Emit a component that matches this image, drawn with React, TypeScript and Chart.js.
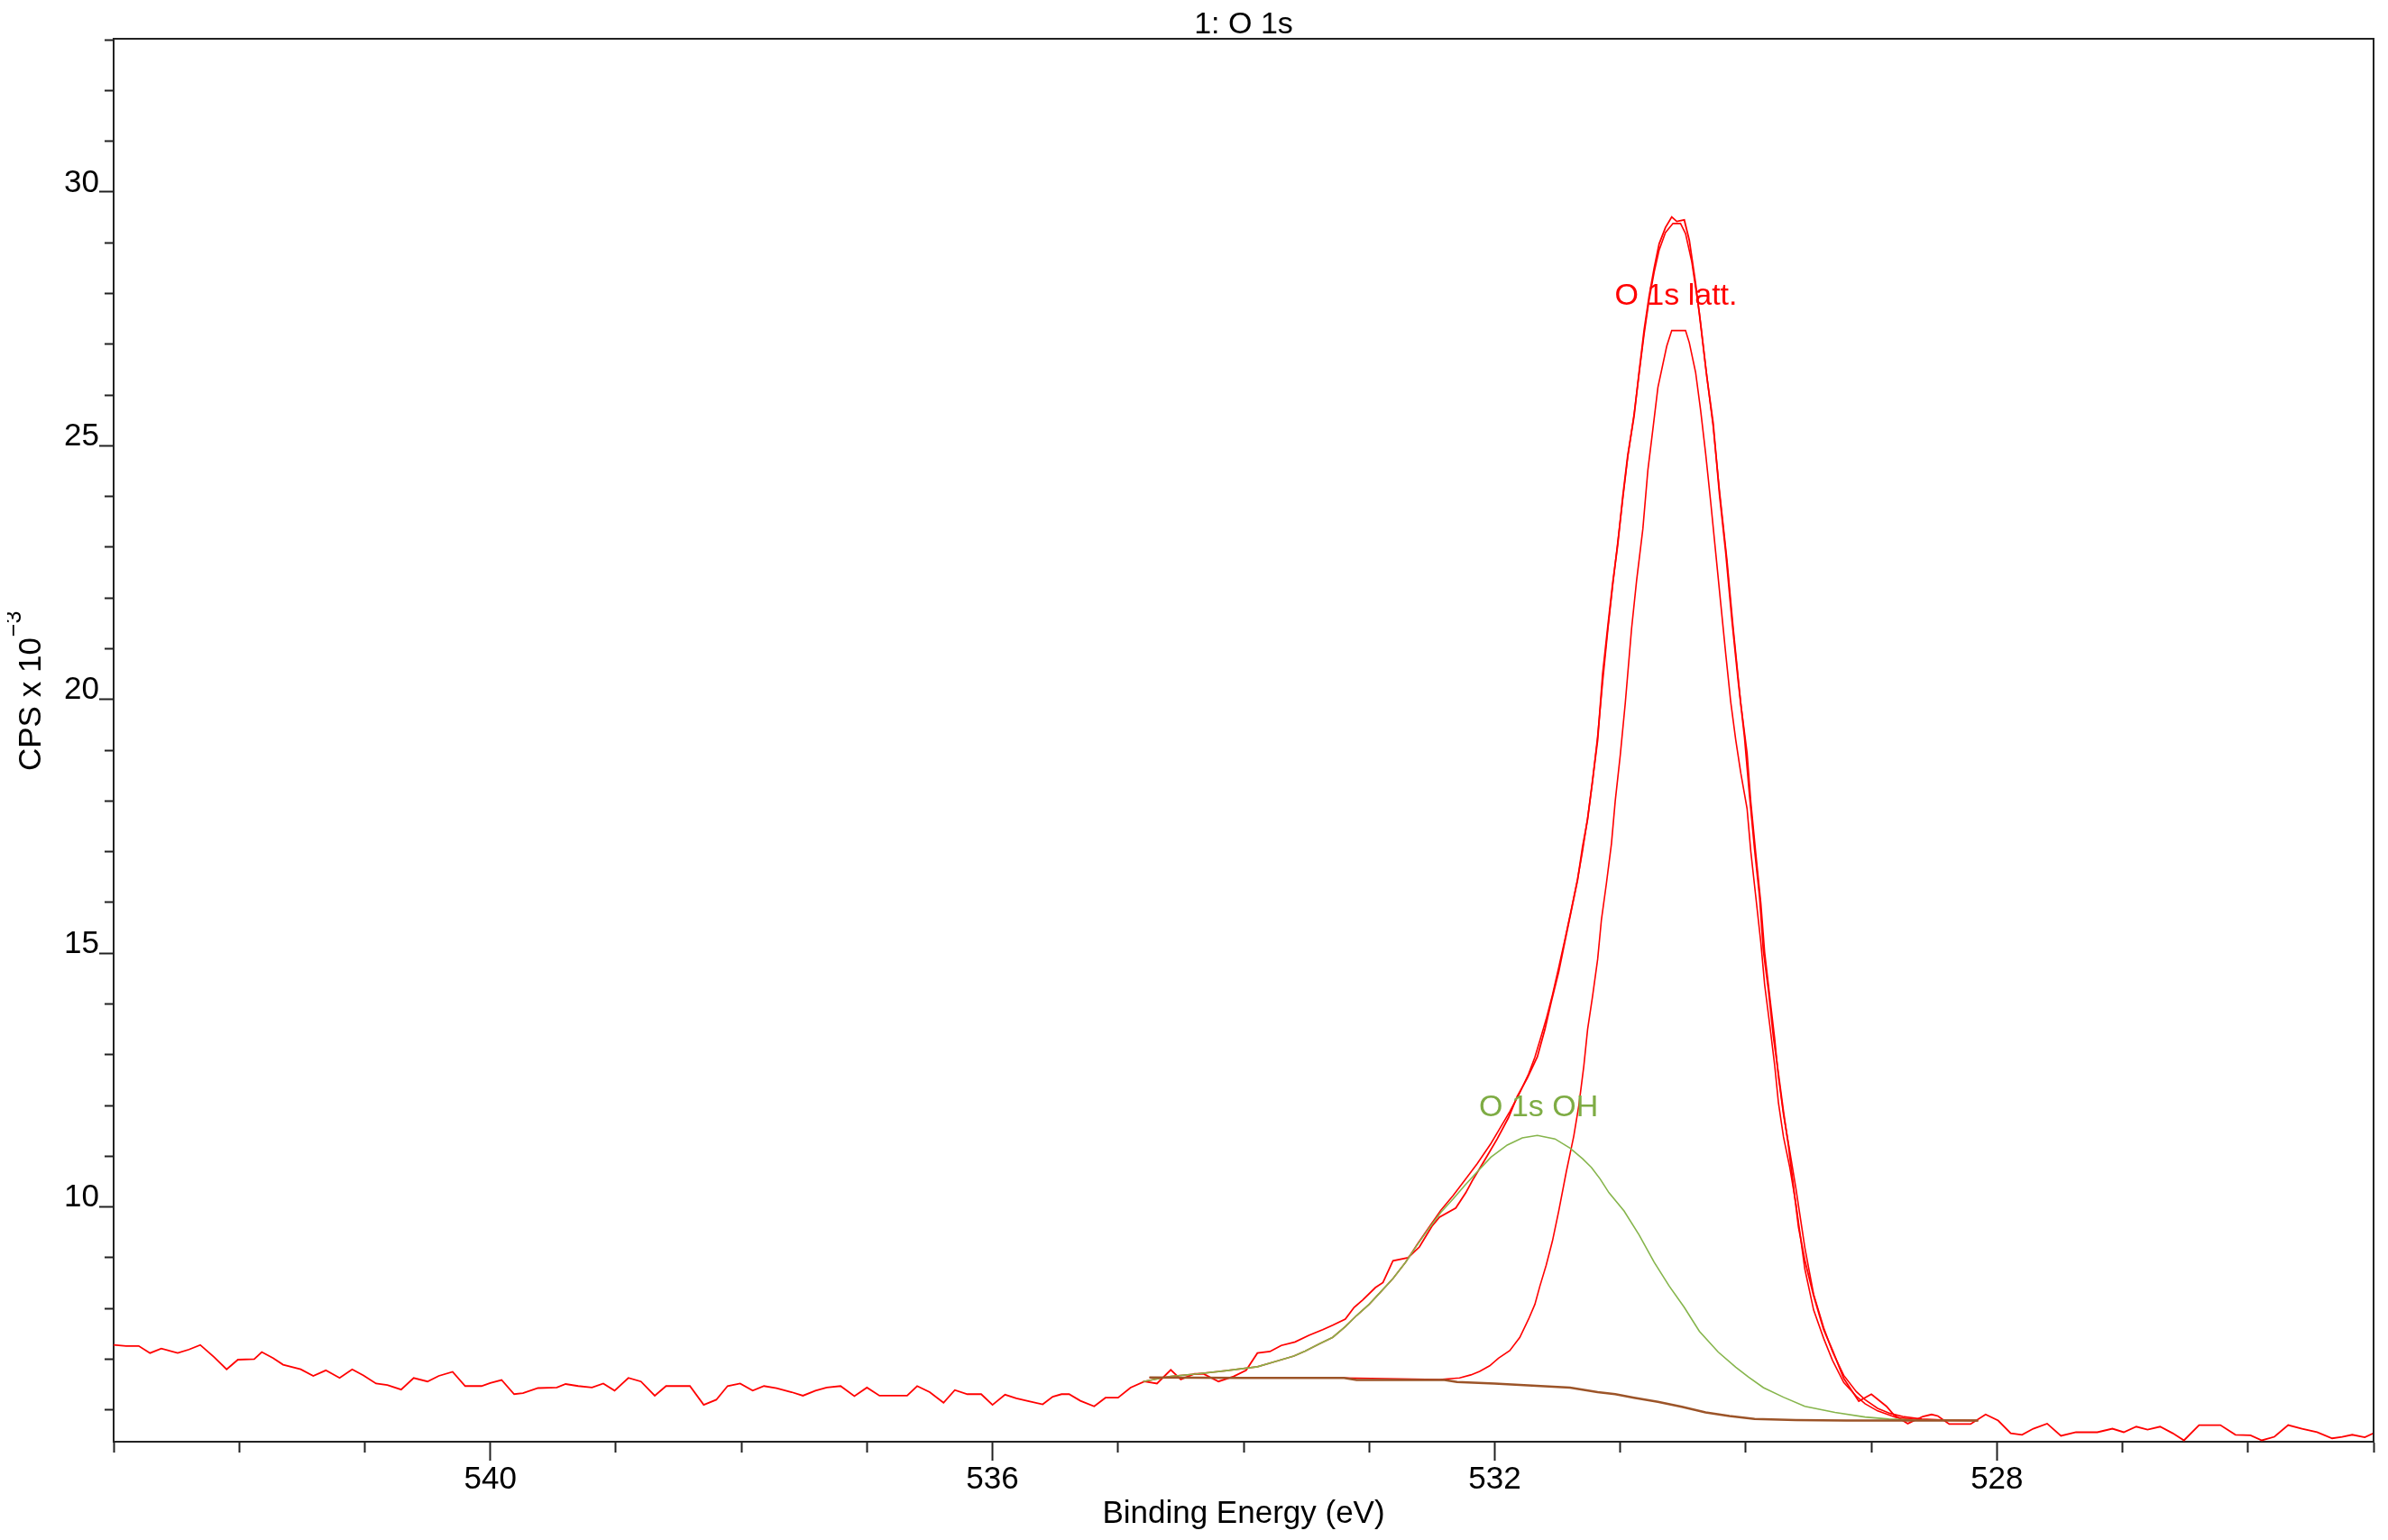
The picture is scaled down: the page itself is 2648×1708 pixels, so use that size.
import React, { useEffect, useRef } from "react";
import { Chart, registerables } from "chart.js";

Chart.register(...registerables);

// ---------- texts ----------
const chartTitle = "1: O 1s";
const xAxisTitle = "Binding Energy (eV)";
const yAxisTitleMain = "CPS x 10";
const yAxisTitleExp = "\u22123";

// ---------- axes ----------
const xMin = 525;
const xMax = 543;
const yMin = 5.373;
const yMax = 33.02;
const xLabelValues = [540, 536, 532, 528];
const yLabelValues = [10, 15, 20, 25, 30];

// ---------- peak labels ----------
const peakLabelTexts = ["O 1s latt.", "O 1s OH"];
const peakLabelBE = [530.556, 531.65];
const peakLabelCPS = [27.78, 11.79];

// ---------- raw data (CPS x 10^-3) ----------
const rawBE = [
  543.0, 542.9, 542.8, 542.71, 542.62, 542.49, 542.4, 542.31, 542.2, 542.1,
  542.01, 541.88, 541.82, 541.73, 541.65, 541.51, 541.41, 541.31, 541.2, 541.1,
  541.01, 540.91, 540.82, 540.71, 540.61, 540.5, 540.41, 540.3, 540.2, 540.07,
  540.0, 539.91, 539.81, 539.74, 539.62, 539.47, 539.4, 539.3, 539.19, 539.1,
  539.01, 538.9, 538.8, 538.69, 538.6, 538.5, 538.41, 538.3, 538.2, 538.11,
  538.01, 537.91, 537.82, 537.72, 537.6, 537.51, 537.41, 537.32, 537.21, 537.1,
  537.0, 536.9, 536.79, 536.68, 536.6, 536.5, 536.39, 536.3, 536.2, 536.09,
  536.0, 535.9, 535.81, 535.71, 535.6, 535.52, 535.45, 535.39, 535.3, 535.19,
  535.1, 535.0, 534.9, 534.79, 534.69, 534.58, 534.5, 534.39, 534.32, 534.2,
  534.08, 533.98, 533.89, 533.79, 533.7, 533.59, 533.48, 533.37, 533.29, 533.19,
  533.12, 533.05, 532.95, 532.89, 532.81, 532.69, 532.6, 532.5, 532.44, 532.31,
  532.23, 532.18, 532.08, 531.98, 531.89, 531.82, 531.74, 531.66, 531.6, 531.55,
  531.49, 531.44, 531.39, 531.34, 531.3, 531.26, 531.22, 531.18, 531.14, 531.1,
  531.06, 531.02, 530.98, 530.94, 530.89, 530.85, 530.81, 530.77, 530.73, 530.69,
  530.64, 530.59, 530.55, 530.49, 530.45, 530.4, 530.36, 530.31, 530.26, 530.21,
  530.16, 530.11, 530.06, 530.01, 529.97, 529.93, 529.89, 529.86, 529.82, 529.78,
  529.74, 529.7, 529.66, 529.62, 529.58, 529.53, 529.46, 529.38, 529.31, 529.22,
  529.1, 529.0, 528.88, 528.82, 528.71, 528.59, 528.52, 528.47, 528.38, 528.21,
  528.09, 527.99, 527.89, 527.8, 527.71, 527.6, 527.49, 527.37, 527.2, 527.08,
  526.99, 526.89, 526.8, 526.7, 526.6, 526.51, 526.39, 526.22, 526.1, 525.98,
  525.89, 525.79, 525.68, 525.57, 525.45, 525.33, 525.25, 525.17, 525.07, 525.0,
];
const rawCPS = [
  7.28, 7.26, 7.26, 7.12, 7.21, 7.12, 7.19, 7.28, 7.04, 6.8,
  6.99, 7.0, 7.14, 7.02, 6.89, 6.8, 6.67, 6.78, 6.63, 6.8,
  6.68, 6.52, 6.49, 6.4, 6.63, 6.56, 6.67, 6.75, 6.47, 6.47,
  6.53, 6.59, 6.31, 6.33, 6.43, 6.44, 6.51, 6.47, 6.44, 6.52,
  6.38, 6.63, 6.56, 6.28, 6.47, 6.47, 6.47, 6.1, 6.2, 6.47,
  6.52, 6.38, 6.47, 6.43, 6.35, 6.28, 6.38, 6.44, 6.47, 6.27,
  6.44, 6.28, 6.28, 6.28, 6.47, 6.35, 6.14, 6.39, 6.31, 6.31,
  6.1, 6.3, 6.23, 6.17, 6.11, 6.26, 6.31, 6.31, 6.18, 6.07,
  6.24, 6.24, 6.44, 6.56, 6.52, 6.79, 6.6, 6.71, 6.71, 6.56,
  6.66, 6.78, 7.12, 7.15, 7.27, 7.34, 7.47, 7.58, 7.67, 7.79,
  8.02, 8.17, 8.41, 8.51, 8.94, 9.0, 9.21, 9.62, 9.8, 9.98,
  10.28, 10.51, 10.92, 11.34, 11.76, 12.18, 12.54, 12.96, 13.5, 14.04,
  14.64, 15.24, 15.84, 16.44, 17.1, 17.64, 18.42, 19.2, 20.51, 21.42,
  22.3, 23.05, 24.0, 24.82, 25.58, 26.45, 27.28, 27.95, 28.5, 28.98,
  29.3, 29.51, 29.42, 29.45, 29.05, 28.2, 27.4, 26.35, 25.45, 24.05,
  22.9, 21.55, 20.35, 19.25, 18.1, 17.05, 16.1, 15.05, 14.28, 13.35,
  12.62, 11.88, 11.2, 10.4, 9.6, 8.95, 8.25, 7.58, 7.18, 6.62,
  6.17, 6.31, 6.07, 5.9, 5.73, 5.87, 5.91, 5.88, 5.72, 5.72,
  5.91, 5.79, 5.54, 5.51, 5.63, 5.73, 5.49, 5.56, 5.56, 5.63,
  5.56, 5.67, 5.61, 5.67, 5.54, 5.4, 5.7, 5.7, 5.51, 5.5,
  5.4, 5.47, 5.7, 5.63, 5.56, 5.44, 5.47, 5.51, 5.46, 5.54,
];

// ---------- fit envelope ----------
const envBE = [
  534.8, 534.58, 534.37, 534.15, 533.89, 533.74, 533.6, 533.51, 533.39, 533.29,
  533.19, 533.1, 533.0, 532.91, 532.81, 532.71, 532.62, 532.52, 532.43, 532.33,
  532.24, 532.14, 532.03, 531.97, 531.88, 531.8, 531.73, 531.68, 531.64, 531.59,
  531.54, 531.49, 531.44, 531.39, 531.34, 531.3, 531.26, 531.22, 531.18, 531.14,
  531.1, 531.06, 531.02, 530.98, 530.94, 530.89, 530.85, 530.81, 530.77, 530.73,
  530.69, 530.64, 530.58, 530.52, 530.48, 530.43, 530.37, 530.32, 530.26, 530.21,
  530.15, 530.1, 530.04, 529.99, 529.96, 529.92, 529.88, 529.85, 529.81, 529.77,
  529.74, 529.7, 529.65, 529.6, 529.53, 529.46, 529.38, 529.31, 529.22, 529.12,
  529.05, 528.95, 528.85, 528.75, 528.6, 528.4, 528.15,
];
const envCPS = [
  6.56, 6.66, 6.71, 6.77, 6.85, 6.96, 7.06, 7.16, 7.31, 7.43,
  7.64, 7.86, 8.08, 8.32, 8.59, 8.91, 9.25, 9.61, 9.93, 10.23,
  10.52, 10.85, 11.25, 11.5, 11.88, 12.25, 12.62, 12.95, 13.28, 13.7,
  14.18, 14.72, 15.28, 15.86, 16.46, 17.02, 17.66, 18.4, 19.28, 20.35,
  21.35, 22.25, 23.1, 23.95, 24.78, 25.62, 26.42, 27.2, 27.88, 28.42,
  28.86, 29.2, 29.38, 29.38, 29.18, 28.62, 27.62, 26.56, 25.38, 24.12,
  22.75, 21.4, 19.92, 18.95, 17.98, 16.95, 15.98, 15.02, 14.16, 13.32,
  12.56, 11.82, 11.1, 10.35, 9.2, 8.28, 7.62, 7.15, 6.68, 6.36,
  6.2, 6.03, 5.93, 5.87, 5.82, 5.8, 5.79,
];

// ---------- component O 1s latt. (on background) ----------
const lattBE = [
  534.75, 533.2, 532.44, 532.28, 532.19, 532.12, 532.04, 531.97, 531.88, 531.8,
  531.73, 531.68, 531.64, 531.59, 531.54, 531.49, 531.43, 531.37, 531.33, 531.29,
  531.26, 531.22, 531.18, 531.15, 531.11, 531.07, 531.04, 531.0, 530.96, 530.91,
  530.87, 530.82, 530.78, 530.74, 530.7, 530.63, 530.59, 530.48, 530.45, 530.4,
  530.36, 530.32, 530.28, 530.24, 530.2, 530.16, 530.12, 530.08, 530.04, 529.99,
  529.96, 529.92, 529.88, 529.85, 529.81, 529.77, 529.74, 529.7, 529.65, 529.6,
  529.53, 529.46, 529.38, 529.31, 529.22, 529.12, 529.05, 528.95, 528.8, 528.6,
  528.15,
];
const lattCPS = [
  6.64, 6.63, 6.6, 6.63, 6.69, 6.76, 6.87, 7.02, 7.17, 7.43,
  7.79, 8.08, 8.44, 8.85, 9.33, 9.92, 10.69, 11.4, 12.0, 12.78,
  13.5, 14.16, 14.88, 15.66, 16.38, 17.16, 18.0, 18.9, 19.93, 21.39,
  22.34, 23.36, 24.52, 25.33, 26.15, 26.96, 27.27, 27.27, 27.03, 26.45,
  25.7, 24.85, 23.9, 22.9, 21.9, 20.9, 19.95, 19.2, 18.55, 17.85,
  17.0, 16.1, 15.2, 14.38, 13.6, 12.79, 12.05, 11.38, 10.78, 10.05,
  8.78, 7.97, 7.41, 6.98, 6.54, 6.27, 6.12, 5.98, 5.85, 5.8,
  5.79,
];

// ---------- component O 1s OH (on background) ----------
const ohBE = [
  534.8, 534.58, 534.37, 534.15, 533.89, 533.74, 533.6, 533.51, 533.39, 533.29,
  533.19, 533.1, 533.0, 532.91, 532.81, 532.71, 532.62, 532.52, 532.43, 532.33,
  532.24, 532.14, 532.03, 531.9, 531.78, 531.66, 531.52, 531.4, 531.3, 531.23,
  531.16, 531.09, 530.97, 530.85, 530.73, 530.61, 530.49, 530.37, 530.22, 530.08,
  529.98, 529.86, 529.7, 529.53, 529.29, 529.05, 528.86, 528.64, 528.15,
];
const ohCPS = [
  6.56, 6.66, 6.71, 6.77, 6.85, 6.96, 7.06, 7.16, 7.31, 7.43,
  7.64, 7.86, 8.08, 8.32, 8.59, 8.91, 9.24, 9.59, 9.89, 10.16,
  10.42, 10.69, 10.98, 11.22, 11.36, 11.41, 11.34, 11.16, 10.95, 10.78,
  10.55, 10.28, 9.92, 9.45, 8.91, 8.44, 8.02, 7.55, 7.14, 6.84,
  6.65, 6.44, 6.25, 6.07, 5.95, 5.86, 5.82, 5.8, 5.79,
];

// ---------- background ----------
const bgBE = [
  534.75, 534.0, 533.2, 533.1, 532.4, 532.3, 532.0, 531.7, 531.4, 531.18,
  531.04, 530.89, 530.7, 530.51, 530.32, 530.13, 529.93, 529.6, 529.2, 528.6,
  528.15,
];
const bgCPS = [
  6.64, 6.63, 6.63, 6.59, 6.59, 6.55, 6.52, 6.48, 6.44, 6.35,
  6.31, 6.24, 6.16, 6.06, 5.95, 5.88, 5.82, 5.8, 5.79, 5.79,
  5.79,
];

// ---------- styling ----------
const FONT_FAMILY = "'Liberation Sans', Arial, Helvetica, sans-serif";
const RED = "#ff0000";
const GREEN = "#86b54c";
const GREEN_TEXT = "#7eac44";
const BROWN = "#9c5428";
const AXIS = "#222222";

const toPoints = (xs: number[], ys: number[]) => xs.map((x, i) => ({ x, y: ys[i] }));

const framePlugin = {
  id: "frame",
  afterDraw(chart: any) {
    const { ctx, chartArea: a } = chart;
    ctx.save();
    ctx.strokeStyle = AXIS;
    ctx.lineWidth = 2;
    ctx.beginPath();
    ctx.moveTo(a.left, a.top);
    ctx.lineTo(a.right, a.top);
    ctx.lineTo(a.right, a.bottom);
    ctx.stroke();
    ctx.restore();
  },
};

const textPlugin = {
  id: "texts",
  afterDraw(chart: any) {
    const { ctx, chartArea: a, scales } = chart;
    ctx.save();
    // chart title
    ctx.fillStyle = "#000";
    ctx.font = `34px ${FONT_FAMILY}`;
    ctx.textAlign = "center";
    ctx.textBaseline = "alphabetic";
    ctx.fillText(chartTitle, (a.left + a.right) / 2, a.top - 6);
    // peak labels
    const colors = [RED, GREEN_TEXT];
    peakLabelTexts.forEach((t, i) => {
      ctx.fillStyle = colors[i];
      ctx.fillText(t, scales.x.getPixelForValue(peakLabelBE[i]), scales.y.getPixelForValue(peakLabelCPS[i]));
    });
    // y axis title with exponent
    ctx.translate(37, 847);
    ctx.rotate(-Math.PI / 2);
    ctx.fillStyle = "#000";
    ctx.textAlign = "left";
    ctx.font = `35px ${FONT_FAMILY}`;
    ctx.fillText(yAxisTitleMain, 0, 0);
    const w = ctx.measureText(yAxisTitleMain).width;
    ctx.font = `25px ${FONT_FAMILY}`;
    ctx.fillText(yAxisTitleExp, w + 1, -22);
    ctx.restore();
  },
};

export default function App() {
  const canvasRef = useRef<HTMLCanvasElement | null>(null);

  useEffect(() => {
    const canvas = canvasRef.current;
    if (!canvas) return;
    const line = (label: string, xs: number[], ys: number[], color: string, width: number) => ({
      label,
      data: toPoints(xs, ys),
      borderColor: color,
      backgroundColor: color,
      borderWidth: width,
      pointRadius: 0,
      tension: 0,
      fill: false,
    });
    const chart = new Chart(canvas, {
      type: "line",
      data: {
        datasets: [
          line("Background", bgBE, bgCPS, BROWN, 2.5),
          line("O 1s OH", ohBE, ohCPS, GREEN, 1.6),
          line("O 1s latt.", lattBE, lattCPS, RED, 1.6),
          line("Envelope", envBE, envCPS, RED, 1.6),
          line("Data", rawBE, rawCPS, RED, 1.8),
        ],
      },
      options: {
        responsive: false,
        animation: false,
        devicePixelRatio: 1,
        layout: { padding: { left: 0, right: 8, top: 35, bottom: 0 } },
        plugins: {
          legend: { display: false },
          tooltip: { enabled: false },
          title: { display: false },
        },
        scales: {
          x: {
            type: "linear",
            reverse: true,
            min: xMin,
            max: xMax,
            afterFit: (s: any) => {
              s.height = 101;
            },
            border: { display: true, color: AXIS, width: 2 },
            grid: {
              drawOnChartArea: false,
              drawTicks: true,
              tickLength: 21,
              tickWidth: 2,
              tickColor: AXIS,
              tickBorderDash: (c: any) => (xLabelValues.includes(c.tick?.value) ? [] : [11, 200]),
            },
            ticks: {
              stepSize: 1,
              autoSkip: false,
              maxRotation: 0,
              minRotation: 0,
              includeBounds: false,
              padding: 0,
              color: "#000",
              font: { family: FONT_FAMILY, size: 35 },
              callback: (v: any) => (xLabelValues.includes(Number(v)) ? String(v) : ""),
            },
            title: {
              display: true,
              text: xAxisTitle,
              color: "#000",
              font: { family: FONT_FAMILY, size: 35 },
              padding: { top: 0, bottom: 0 },
            },
          },
          y: {
            type: "linear",
            min: yMin,
            max: yMax,
            afterFit: (s: any) => {
              s.width = 118;
            },
            border: { display: true, color: AXIS, width: 2 },
            grid: {
              drawOnChartArea: false,
              drawTicks: true,
              tickLength: 16,
              tickWidth: 2,
              tickColor: AXIS,
              tickBorderDash: (c: any) => (yLabelValues.includes(c.tick?.value) ? [] : [0, 6, 9, 200]),
            },
            ticks: {
              stepSize: 1,
              autoSkip: false,
              includeBounds: false,
              padding: 0,
              labelOffset: -10,
              color: "#000",
              font: { family: FONT_FAMILY, size: 35 },
              callback: (v: any) => (yLabelValues.includes(Number(v)) ? String(v) : ""),
            },
            title: { display: false },
          },
        },
      } as any,
      plugins: [framePlugin, textPlugin],
    });
    return () => chart.destroy();
  }, []);

  return (
    <div style={{ width: 2632, height: 1692 }}>
      <canvas ref={canvasRef} width={2632} height={1692} style={{ display: "block" }} />
    </div>
  );
}
